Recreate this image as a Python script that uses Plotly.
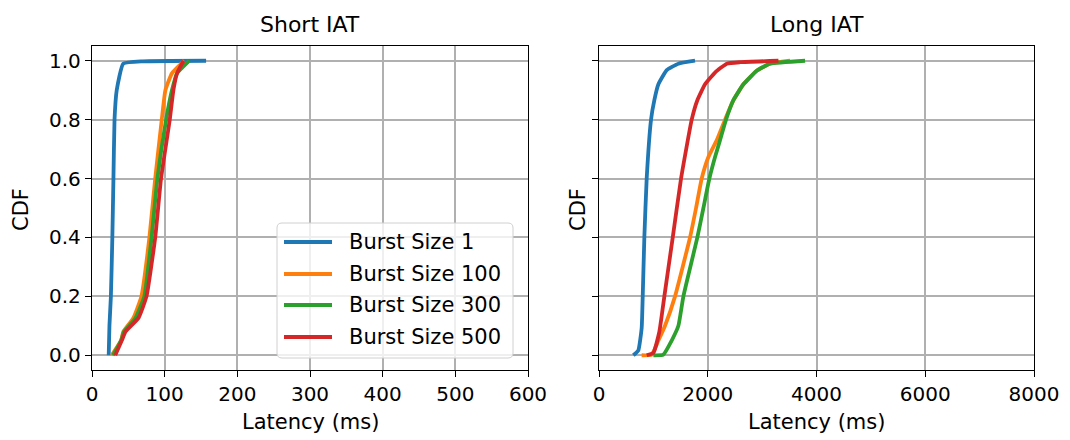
import plotly.graph_objects as go

# ---------------- data ----------------
cdf_levels_short = [0.0, 0.05, 0.08, 0.127, 0.2, 0.4, 0.6, 0.8, 0.9, 0.957, 1.0]

short_b1_x = [23, 24, 26, 28, 29.5, 31, 34, 43, 70, 157]
short_b1_y = [0.0, 0.1, 0.2, 0.4, 0.6, 0.8, 0.9, 0.99, 0.998, 1.0]

short_b100_x = [27, 40, 43, 57, 68, 79, 87, 96, 101, 110, 127]
short_b300_x = [29, 40, 44, 60, 72, 82, 90, 102, 110, 117, 134]
short_b500_x = [32, 41, 46, 64, 75, 87, 95, 107, 112, 117, 126]

long_b1_x = [631, 724, 785, 804, 834, 877, 957, 1018, 1092, 1245, 1460, 1766]
long_b1_y = [0.0, 0.017, 0.093, 0.2, 0.4, 0.6, 0.8, 0.866, 0.92, 0.968, 0.99, 1.0]

long_b100_x = [785, 969, 1092, 1214, 1398, 1674, 1785, 1889, 2012, 2165, 2318, 2472, 2656, 2901, 3146, 3514]
long_b100_y = [0.0, 0.002, 0.05, 0.1, 0.2, 0.4, 0.5, 0.6, 0.673, 0.73, 0.8, 0.866, 0.92, 0.966, 0.99, 1.0]

long_b300_x = [1000, 1183, 1337, 1460, 1552, 1809, 1920, 2030, 2134, 2226, 2336, 2472, 2656, 2901, 3146, 3790]
long_b300_y = [0.0, 0.002, 0.05, 0.1, 0.2, 0.4, 0.5, 0.6, 0.673, 0.73, 0.8, 0.866, 0.92, 0.966, 0.99, 1.0]

long_b500_x = [877, 1000, 1110, 1202, 1356, 1509, 1705, 1809, 1950, 2134, 2349, 2594, 3300]
long_b500_y = [0.0, 0.008, 0.08, 0.2, 0.4, 0.6, 0.8, 0.866, 0.92, 0.96, 0.99, 0.995, 1.0]

series_names = ["Burst Size 1", "Burst Size 100", "Burst Size 300", "Burst Size 500"]
colors = ["#1f77b4", "#ff7f0e", "#2ca02c", "#d62728"]

short_x_ticks = [0, 100, 200, 300, 400, 500, 600]
long_x_ticks = [0, 2000, 4000, 6000, 8000]
y_ticks = [0.0, 0.2, 0.4, 0.6, 0.8, 1.0]

# ---------------- figure ----------------
W, H = 1070, 440
LW = 3.8
fig = go.Figure()

short_sets = [(short_b1_x, short_b1_y), (short_b100_x, cdf_levels_short),
              (short_b300_x, cdf_levels_short), (short_b500_x, cdf_levels_short)]
long_sets = [(long_b1_x, long_b1_y), (long_b100_x, long_b100_y),
             (long_b300_x, long_b300_y), (long_b500_x, long_b500_y)]

for i, (xs, ys) in enumerate(short_sets):
    fig.add_trace(go.Scatter(x=xs, y=ys, mode="lines", name=series_names[i],
                             line=dict(color=colors[i], width=LW, shape="spline", smoothing=0.4),
                             xaxis="x", yaxis="y", showlegend=False))
for i, (xs, ys) in enumerate(long_sets):
    fig.add_trace(go.Scatter(x=xs, y=ys, mode="lines", name=series_names[i],
                             line=dict(color=colors[i], width=LW, shape="spline", smoothing=0.4),
                             xaxis="x2", yaxis="y2", showlegend=False))

font = dict(family="DejaVu Sans", size=20, color="black")
label_font = dict(family="DejaVu Sans", size=21, color="black")
ydom = [1 - 370 / H, 1 - 46 / H]

axis_common = dict(showline=True, linecolor="black", linewidth=1.3, mirror=True,
                   ticks="outside", ticklen=6, tickwidth=1.3, tickcolor="black",
                   showgrid=True, gridcolor="#b0b0b0", gridwidth=1.5, zeroline=False,
                   tickfont=font, automargin=False)


def px(x):
    return x / W


def py(y):
    return 1 - y / H


# ---- legend (matplotlib-style box inside the left panel) ----
bx0, bx1, by0, by1, r = 277, 513, 223, 358, 5
box_path = (
    f"M {px(bx0 + r)} {py(by0)} L {px(bx1 - r)} {py(by0)} "
    f"Q {px(bx1)} {py(by0)} {px(bx1)} {py(by0 + r)} "
    f"L {px(bx1)} {py(by1 - r)} Q {px(bx1)} {py(by1)} {px(bx1 - r)} {py(by1)} "
    f"L {px(bx0 + r)} {py(by1)} Q {px(bx0)} {py(by1)} {px(bx0)} {py(by1 - r)} "
    f"L {px(bx0)} {py(by0 + r)} Q {px(bx0)} {py(by0)} {px(bx0 + r)} {py(by0)} Z"
)
shapes = [dict(type="path", path=box_path, xref="paper", yref="paper",
               fillcolor="rgba(255,255,255,0.8)", line=dict(color="#d0d0d0", width=1),
               layer="above")]
annotations = []
row_y = [242, 274, 305, 337]
for i, name in enumerate(series_names):
    shapes.append(dict(type="line", xref="paper", yref="paper",
                       x0=px(284), x1=px(332), y0=py(row_y[i]), y1=py(row_y[i]),
                       line=dict(color=colors[i], width=LW), layer="above"))
    annotations.append(dict(text=name, x=px(347), y=py(row_y[i]), xref="paper", yref="paper",
                            showarrow=False, font=label_font, xanchor="left", yanchor="middle"))

annotations += [
    dict(text="Short IAT", x=px((92 + 528) / 2), y=py(25), xref="paper", yref="paper",
         showarrow=False, font=dict(family="DejaVu Sans", size=22, color="black"),
         xanchor="center", yanchor="middle"),
    dict(text="Long IAT", x=px((599 + 1034) / 2), y=py(25), xref="paper", yref="paper",
         showarrow=False, font=dict(family="DejaVu Sans", size=22, color="black"),
         xanchor="center", yanchor="middle"),
    dict(text="Latency (ms)", x=px((92 + 528) / 2), y=py(422), xref="paper", yref="paper",
         showarrow=False, font=label_font, xanchor="center", yanchor="middle"),
    dict(text="Latency (ms)", x=px((599 + 1034) / 2), y=py(422), xref="paper", yref="paper",
         showarrow=False, font=label_font, xanchor="center", yanchor="middle"),
    dict(text="CDF", x=px(21), y=py(210), xref="paper", yref="paper", textangle=-90,
         showarrow=False, font=label_font, xanchor="center", yanchor="middle"),
    dict(text="CDF", x=px(578), y=py(210), xref="paper", yref="paper", textangle=-90,
         showarrow=False, font=label_font, xanchor="center", yanchor="middle"),
]

fig.update_layout(
    template="none",
    width=W, height=H,
    margin=dict(l=0, r=0, t=0, b=0, pad=0, autoexpand=False),
    paper_bgcolor="white", plot_bgcolor="white",
    font=font,
    showlegend=False,
    xaxis=dict(domain=[px(92), px(528)], range=[0, 600], tickvals=short_x_ticks,
               anchor="y", **axis_common),
    yaxis=dict(domain=ydom, range=[-0.05, 1.05], tickvals=y_ticks, tickformat=".1f",
               anchor="x", **axis_common),
    xaxis2=dict(domain=[px(599), px(1034)], range=[0, 8000], tickvals=long_x_ticks,
                anchor="y2", **axis_common),
    yaxis2=dict(domain=ydom, range=[-0.05, 1.05], tickvals=y_ticks, showticklabels=False,
                anchor="x2", **axis_common),
    shapes=shapes,
    annotations=annotations,
)

fig.write_html("out.html")
